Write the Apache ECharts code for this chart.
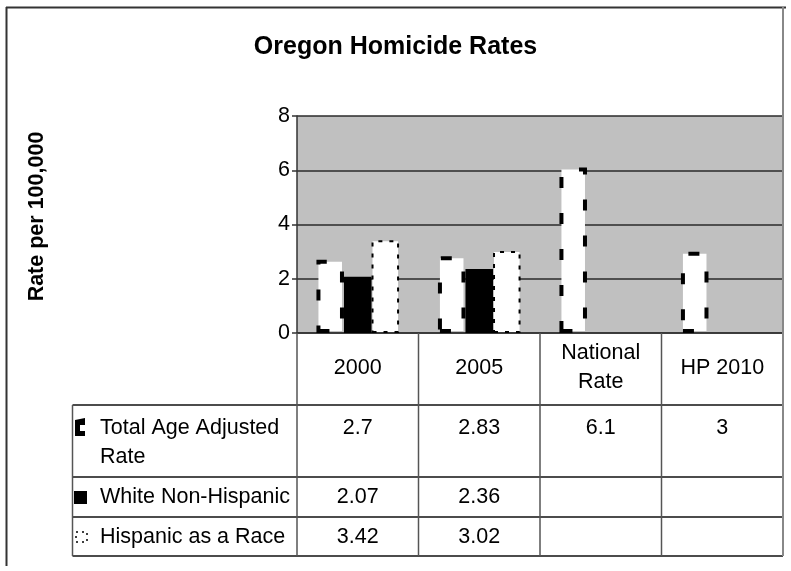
<!DOCTYPE html>
<html>
<head>
<meta charset="utf-8">
<script src="https://cdn.jsdelivr.net/npm/echarts@6/dist/echarts.min.js"></script>
<style>
html,body{margin:0;padding:0;background:#fff;}
#chart{width:791px;height:571px;}
</style>
</head>
<body>
<div id="chart"></div>
<script>
const titleText = 'Oregon Homicide Rates';
const yAxisTitle = 'Rate per 100,000';
const categories = ['2000', '2005', 'National\nRate', 'HP 2010'];
const seriesNames = ['Total Age Adjusted\nRate', 'White Non-Hispanic', 'Hispanic as a Race'];
const totalRate = [2.7, 2.83, 6.1, 3];
const whiteNonHispanic = [2.07, 2.36, null, null];
const hispanicRace = [3.42, 3.02, null, null];
const yMin = 0, yMax = 8, yInterval = 2;

const FONT = '"Liberation Sans", Arial, sans-serif';
const FS = 21.5;

const chart = echarts.init(document.getElementById('chart'), null, {renderer: 'canvas'});

const option = {
  animation: false,
  backgroundColor: '#ffffff',
  title: {
    text: titleText, left: 'center', top: 30,
    textStyle: {fontFamily: FONT, fontSize: 25, fontWeight: 'bold', color: '#000'}
  },
  grid: {left: 297, top: 116, width: 486, height: 217, show: true, backgroundColor: '#c0c0c0', borderWidth: 0},
  xAxis: {
    type: 'category', data: categories, boundaryGap: true,
    axisLine: {show: true, lineStyle: {color: '#333', width: 1.5}},
    axisTick: {show: false},
    axisLabel: {fontFamily: FONT, fontSize: FS, color: '#000', margin: 35, verticalAlign: 'middle', lineHeight: 29, interval: 0}
  },
  yAxis: {
    type: 'value', min: yMin, max: yMax, interval: yInterval,
    axisLine: {show: true, lineStyle: {color: '#333', width: 1.5}},
    axisTick: {show: true, length: 5, inside: false, lineStyle: {color: '#333', width: 1.5}},
    axisLabel: {fontFamily: FONT, fontSize: FS, color: '#000', margin: 7},
    splitLine: {show: true, lineStyle: {color: '#2a2a2a', width: 1.5}}
  },
  series: [
    {name: seriesNames[0], type: 'bar', data: totalRate, barGap: '0%', barCategoryGap: '32%',
     itemStyle: {color: '#fff', borderColor: '#000', borderWidth: 4, borderType: [11, 25]}},
    {name: seriesNames[1], type: 'bar', data: whiteNonHispanic,
     itemStyle: {color: '#000', borderColor: '#000', borderWidth: 0}},
    {name: seriesNames[2], type: 'bar', data: hispanicRace,
     itemStyle: {color: '#fff', borderColor: '#000', borderWidth: 2, borderType: [4, 7]}}
  ]
};
chart.setOption(option);

function buildTable() {
  const p0 = chart.convertToPixel({xAxisIndex: 0}, 0);
  const p1 = chart.convertToPixel({xAxisIndex: 0}, 1);
  const bw = p1 - p0;
  const left = p0 - bw / 2;
  const right = left + categories.length * bw;
  const bottom = chart.convertToPixel({yAxisIndex: 0}, 0);
  const top = chart.convertToPixel({yAxisIndex: 0}, yMax);
  const tableLeft = 72.5;
  const rowTops = [bottom + 72, bottom + 144, bottom + 184];
  const tableBottom = bottom + 223;
  const firstLineCenter = [rowTops[0] + 23, rowTops[1] + 20, rowTops[2] + 20];
  const els = [];
  const hl = (x1, x2, y, c, w) => els.push({type: 'line', shape: {x1, y1: y, x2, y2: y}, style: {stroke: c, lineWidth: w}, z: 10});
  const vl = (x, y1, y2, c, w) => els.push({type: 'line', shape: {x1: x, y1, x2: x, y2}, style: {stroke: c, lineWidth: w}, z: 10});
  rowTops.forEach(y => hl(tableLeft, right, y, '#111', 1.5));
  hl(tableLeft, right, tableBottom, '#111', 1.5);
  vl(tableLeft, rowTops[0], tableBottom, '#555', 1.5);
  for (let i = 0; i <= categories.length; i++) {
    vl(left + i * bw, bottom, tableBottom, '#555', 1.5);
  }
  const rows = [totalRate, whiteNonHispanic, hispanicRace];
  rows.forEach((vals, r) => {
    const ty = firstLineCenter[r] - 14.5;
    els.push({type: 'text', x: 100, y: ty, z: 11,
      style: {text: seriesNames[r], fontFamily: FONT, fontSize: FS, fill: '#000', lineHeight: 29, textVerticalAlign: 'top', textAlign: 'left'}});
    vals.forEach((v, c) => {
      if (v === null || v === undefined) return;
      els.push({type: 'text', x: chart.convertToPixel({xAxisIndex: 0}, c), y: ty, z: 11,
        style: {text: String(v), fontFamily: FONT, fontSize: FS, fill: '#000', lineHeight: 29, textVerticalAlign: 'top', textAlign: 'center'}});
    });
  });
  const c0 = firstLineCenter[0];
  els.push({type: 'polygon', z: 11, shape: {points: [[75, c0 - 8], [85, c0 - 10], [85, c0 - 3], [80, c0 - 3], [80, c0 + 3], [85, c0 + 3], [85, c0 + 8], [75, c0 + 8]]}, style: {fill: '#000'}});
  const c1 = firstLineCenter[1];
  els.push({type: 'rect', z: 11, shape: {x: 74, y: c1 - 6, width: 13, height: 13}, style: {fill: '#000'}});
  const c2 = firstLineCenter[2];
  els.push({type: 'rect', z: 11, shape: {x: 76, y: c2 - 5, width: 11, height: 10}, style: {fill: 'none', stroke: '#000', lineWidth: 1.5, lineDash: [2, 4]}});
  els.push({type: 'text', x: 37, y: (bottom + top) / 2 - 8, rotation: Math.PI / 2, z: 11,
    style: {text: yAxisTitle, fontFamily: FONT, fontSize: 21.5, fontWeight: 'bold', fill: '#000', textAlign: 'center', textVerticalAlign: 'middle'}});
  hl(6, right + 3, 7.5, '#333', 2);
  vl(6.5, 7, 566, '#333', 2);
  vl(right, 7, tableBottom, '#888', 2);
  chart.setOption({graphic: {elements: els}});
}
buildTable();
</script>
</body>
</html>
